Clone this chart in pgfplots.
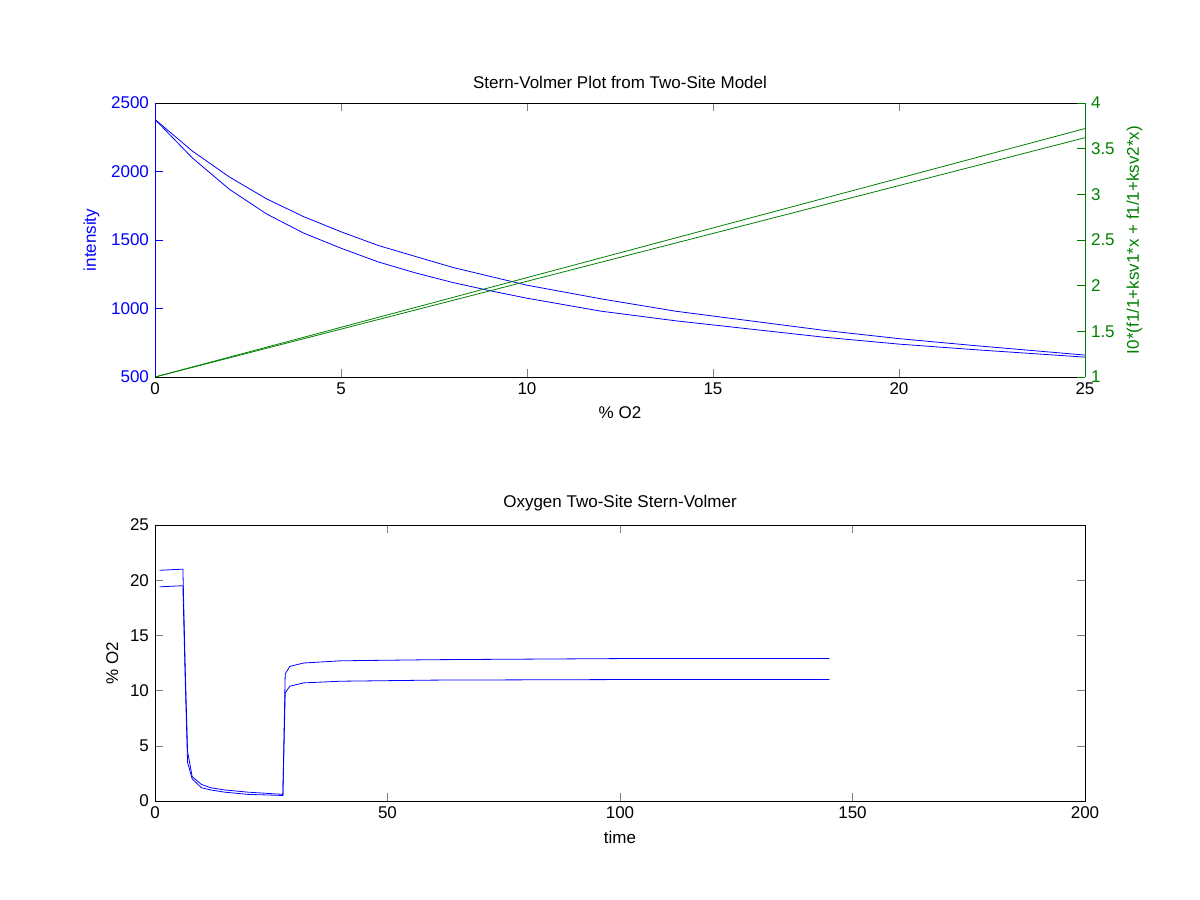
\documentclass[border=0pt]{standalone}
\usepackage{pgfplots}
\pgfplotsset{compat=1.18}
\usepackage{fontspec}
\setmainfont{Liberation Sans}
\begin{document}
\fontsize{8.5}{10}\selectfont
\begin{tikzpicture}
\path (0pt,0pt) rectangle (600pt,450pt);
\pgfplotsset{every axis/.style={scale only axis, anchor=south west,
  /pgf/number format/assume math mode=true, /pgf/number format/1000 sep={}, tick align=inside,
  major tick length=4pt, title style={yshift=-2pt},
  every tick label/.append style={font=\fontsize{8.5}{10}\selectfont},
  label style={font=\fontsize{8.5}{10}\selectfont},
  title style={font=\fontsize{8.5}{10}\selectfont}}}
% top left axis
\begin{axis}[at={(77.5pt,261.5pt)}, width=465pt, height=137pt,
  xmin=0,xmax=25,ymin=500,ymax=2500, xtick={0,5,...,25}, ytick={500,1000,...,2500},
  axis y line*=left, axis x line*=box,
  y axis line style={blue}, ytick style={blue}, yticklabel style={blue},
  ylabel={intensity}, ylabel style={blue},
  xlabel={\% O2}, title={Stern-Volmer Plot from Two-Site Model}]
\addplot[blue, no marks] coordinates {(0,2380)(1,2150)(2,1960)(3,1800)(4,1670)(5,1560)(6,1460)(7,1380)(8,1300)(9,1235)(10,1170)(12,1070)(14,980)(16,910)(18,840)(20,780)(22,730)(25,660)};
\addplot[blue, no marks] coordinates {(0,2380)(1,2100)(2,1870)(3,1690)(4,1550)(5,1440)(6,1340)(7,1260)(8,1190)(9,1130)(10,1075)(12,980)(14,910)(16,850)(18,790)(20,740)(22,700)(25,645)};
\end{axis}
\begin{axis}[at={(77.5pt,261.5pt)}, width=465pt, height=137pt,
  xmin=0,xmax=25,ymin=1,ymax=4, ytick={1,1.5,...,4},
  axis y line*=right, axis x line=none,
  y axis line style={green!50!black}, ytick style={green!50!black}, yticklabel style={green!50!black},
  ylabel={I0*(f1/1+ksv1*x + f1/1+ksv2*x)}, ylabel style={green!50!black}]
\addplot[green!50!black, no marks] coordinates {(0,1)(25,3.72)};
\addplot[green!50!black, no marks] coordinates {(0,1)(25,3.62)};
\end{axis}
% bottom
\begin{axis}[at={(77.5pt,49.5pt)}, width=465pt, height=138pt,
  xmin=0,xmax=200,ymin=0,ymax=25, xtick={0,50,...,200}, ytick={0,5,...,25},
  xlabel={time}, ylabel={\% O2}, title={Oxygen Two-Site Stern-Volmer}]
\addplot[blue, no marks] coordinates {(1,20.9)(6,21.0)(6.5,12)(7,4.5)(8,2.2)(10,1.5)(12,1.2)(15,1.0)(20,0.8)(27.5,0.6)(28,11.5)(29,12.2)(32,12.5)(40,12.7)(60,12.8)(100,12.9)(145,12.9)};
\addplot[blue, no marks] coordinates {(1,19.4)(6,19.5)(6.5,11)(7,3.5)(8,2.0)(10,1.2)(12,1.0)(15,0.8)(20,0.6)(27.5,0.5)(28,9.8)(29,10.4)(32,10.7)(40,10.85)(60,10.95)(100,11.0)(145,11.0)};
\end{axis}
\end{tikzpicture}
\end{document}
